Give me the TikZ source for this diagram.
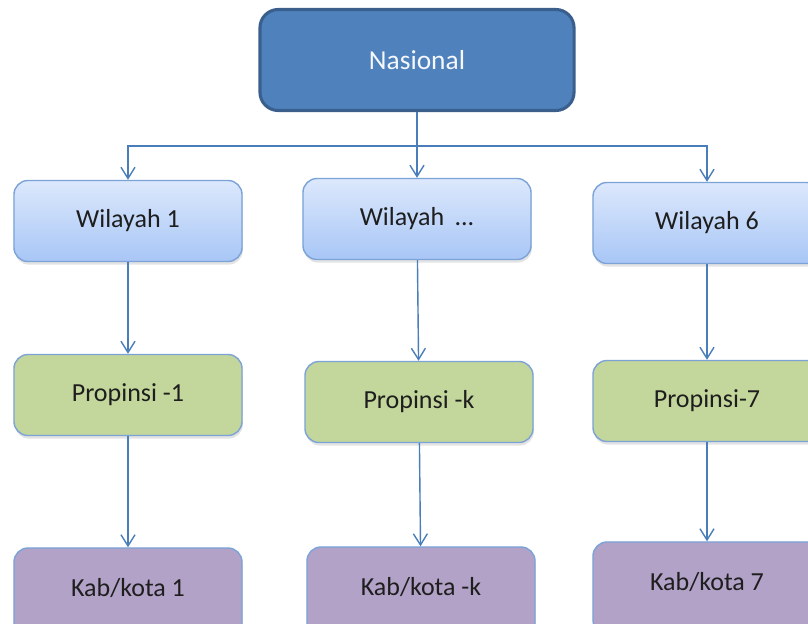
\documentclass[tikz,border=0pt]{standalone}
\usepackage{fontspec}
\setmainfont{Carlito}
\usepackage{tikz}
\usetikzlibrary{arrows.meta,shadows}
\definecolor{natfill}{HTML}{4F81BD}
\definecolor{natline}{HTML}{3A5F8D}
\definecolor{wtop}{HTML}{DCE8FC}
\definecolor{wbot}{HTML}{A8C6F6}
\definecolor{boxline}{HTML}{7BA3D8}
\definecolor{prov}{HTML}{C3D69B}
\definecolor{kab}{HTML}{B2A2C7}
\definecolor{linkc}{HTML}{4A7EBB}
\definecolor{ink}{HTML}{1E1E1E}
\tikzset{
  lvl/.style={draw=boxline,fill=#1,line width=1pt,rounded corners=10pt,minimum width=5.7cm,minimum height=2.025cm,
              align=center,text=ink,drop shadow={opacity=0.22,shadow xshift=0.6pt,shadow yshift=-2.2pt}},
  lvl/.default=prov,
  wil/.style={lvl,top color=wtop,bottom color=wbot},
  kabbox/.style={lvl=kab,minimum height=2.3cm,text height=14pt,text depth=10pt},
  natl/.style={draw=natline,fill=natfill,line width=2.2pt,rounded corners=13pt,minimum width=7.85cm,minimum height=2.525cm,
               text=white!94!natfill,font=\fontsize{19.5}{23}\selectfont},
  link/.style={-{Straight Barb[length=8pt,width=10pt]},line width=1pt,draw=linkc},
}

\begin{document}
\begin{tikzpicture}[x=0.025cm,y=-0.025cm,font=\fontsize{18.5}{22}\selectfont]
  \useasboundingbox (0,0) rectangle (808,624);
  \clip (0,0) rectangle (808,624);
  \node[natl] (nas) at (417,60) {Nasional};
  \coordinate (bus) at (417,146);

  \node[wil] (w1) at (128,221) {Wilayah 1};
  \node[wil] (w2) at (417,219) {Wilayah \,...};
  \node[wil] (w3) at (707,223) {Wilayah 6};

  \node[lvl=prov] (p1) at (128,395) {Propinsi -1};
  \node[lvl=prov] (p2) at (419,402) {Propinsi -k};
  \node[lvl=prov] (p3) at (707,401) {Propinsi-7};

  \node[kabbox] (k1) at (128,594) {Kab/kota 1};
  \node[kabbox] (k2) at (421,593) {Kab/kota -k};
  \node[kabbox] (k3) at (707,588) {Kab/kota 7};

  \draw[link] (nas.south) -- (w2.north);
  \draw[link] (bus) -| (w1.north);
  \draw[link] (bus) -| (w3.north);
  \draw[link] (w1) -- (p1);  \draw[link] (w2) -- (p2);  \draw[link] (w3) -- (p3);
  \draw[link] (p1) -- (k1);  \draw[link] (p2) -- (k2);  \draw[link] (p3) -- (k3);
\end{tikzpicture}
\end{document}
